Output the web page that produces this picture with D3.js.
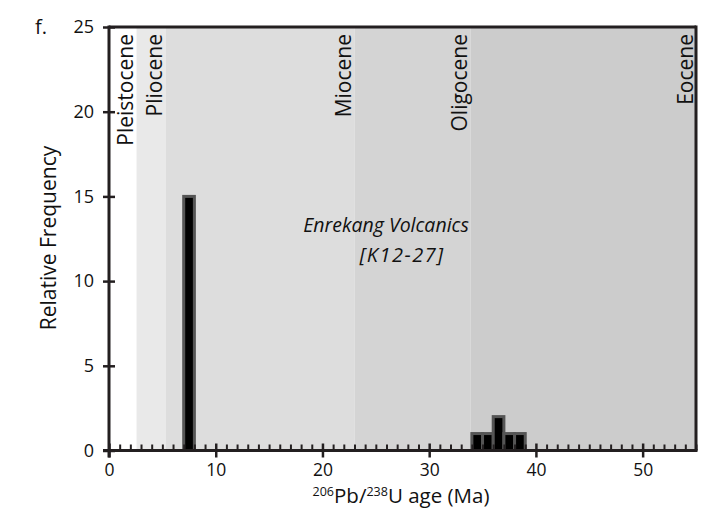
<!DOCTYPE html>
<html>
<head>
<meta charset="utf-8">
<script src="https://cdn.jsdelivr.net/npm/d3@7"></script>
<style>
  html, body { margin: 0; padding: 0; background: #fff; }
  svg { display: block; font-family: "Open Sans", "Noto Sans", sans-serif; }
</style>
</head>
<body>
<svg id="chart" width="707" height="513"></svg>
<script>
// ---- data ----
const binStarts = [7, 34, 35, 36, 37, 38];
const binCounts = [15, 1, 1, 2, 1, 1];
const binWidth = 1;

const epochNames  = ["Pleistocene", "Pliocene", "Miocene", "Oligocene", "Eocene"];
const epochStarts = [0, 2.58, 5.33, 23.03, 33.9];
const epochEnds   = [2.58, 5.33, 23.03, 33.9, 55];
const epochFills  = ["#ffffff", "#e9e9e9", "#dddddd", "#d4d4d4", "#cccccc"];

const xTicks = [0, 10, 20, 30, 40, 50];
const yTicks = [0, 5, 10, 15, 20, 25];
const xDomain = [0, 55];
const yDomain = [0, 25];

// ---- layout ----
const svg = d3.select("#chart");
const L = 109, R = 696, T = 27, B = 450.5;
const x = d3.scaleLinear().domain(xDomain).range([L, R]);
const y = d3.scaleLinear().domain(yDomain).range([B, T]);
const ink = "#231f20";
const txt = "#111";

// epoch bands
svg.append("g").selectAll("rect").data(epochNames).join("rect")
  .attr("x", (d, i) => x(epochStarts[i]))
  .attr("y", T)
  .attr("width", (d, i) => x(epochEnds[i]) - x(epochStarts[i]))
  .attr("height", B - T)
  .attr("fill", (d, i) => epochFills[i]);

// epoch labels
svg.append("g").selectAll("text").data(epochNames).join("text")
  .attr("transform", (d, i) => `translate(${x(epochEnds[i]) - 11},34) rotate(-90)`)
  .attr("text-anchor", "end")
  .attr("dy", "0.36em")
  .attr("font-size", 21)
  .attr("fill", txt)
  .text(d => d);

// annotation
svg.append("text")
  .attr("x", 386).attr("y", 232)
  .attr("text-anchor", "middle")
  .attr("font-size", 19.5).attr("font-style", "italic").attr("fill", txt)
  .text("Enrekang Volcanics");
svg.append("text")
  .attr("x", 402).attr("y", 262)
  .attr("text-anchor", "middle")
  .attr("font-size", 20).attr("font-style", "italic").attr("fill", txt)
  .attr("letter-spacing", 1.5)
  .text("[K12-27]");

// bars
svg.append("g").selectAll("rect").data(binStarts).join("rect")
  .attr("x", d => x(d))
  .attr("y", (d, i) => y(binCounts[i]))
  .attr("width", d => x(d + binWidth) - x(d))
  .attr("height", (d, i) => y(0) - y(binCounts[i]))
  .attr("fill", "#000")
  .attr("stroke", "#555")
  .attr("stroke-width", 3);

// frame top/right
svg.append("line").attr("x1", L).attr("x2", R).attr("y1", T).attr("y2", T)
  .attr("stroke", ink).attr("stroke-width", 3);
svg.append("line").attr("x1", R).attr("x2", R).attr("y1", T - 1.5).attr("y2", B)
  .attr("stroke", ink).attr("stroke-width", 3);

// x axis
const xMinor = d3.range(0, 56, 1).filter(v => !xTicks.includes(v));
const gx = svg.append("g").attr("transform", `translate(0,${B})`);
gx.call(d3.axisBottom(x).tickValues(xMinor).tickSize(-6).tickFormat(""))
  .call(g => g.select(".domain").remove())
  .call(g => g.selectAll(".tick line").attr("stroke", ink).attr("stroke-width", 2));
const gx2 = svg.append("g").attr("transform", `translate(0,${B})`);
gx2.call(d3.axisBottom(x).tickValues(xTicks).tickSize(7).tickPadding(6).tickFormat(d3.format("d")))
  .call(g => g.select(".domain").remove())
  .call(g => g.selectAll(".tick line").attr("y1", -7).attr("stroke", ink).attr("stroke-width", 2.5))
  .call(g => g.selectAll(".tick text").attr("font-size", 17.5).attr("fill", txt)
      .attr("font-family", "'Open Sans', sans-serif"));
svg.append("line").attr("x1", L - 6).attr("x2", R + 1.5).attr("y1", B).attr("y2", B)
  .attr("stroke", ink).attr("stroke-width", 3);

// y axis
const gy = svg.append("g").attr("transform", `translate(${L},0)`);
gy.call(d3.axisLeft(y).tickValues(yTicks).tickSize(6).tickPadding(9).tickFormat(d3.format("d")))
  .call(g => g.select(".domain").remove())
  .call(g => g.selectAll(".tick line").attr("x2", -6).attr("x1", 6).attr("stroke", ink).attr("stroke-width", 2.5))
  .call(g => g.selectAll(".tick text").attr("font-size", 18).attr("fill", txt)
      .attr("font-family", "'Open Sans', sans-serif"));
svg.append("line").attr("x1", L).attr("x2", L).attr("y1", T - 1.5).attr("y2", B + 7)
  .attr("stroke", ink).attr("stroke-width", 3);

// axis titles
const xt = svg.append("text")
  .attr("x", 401).attr("y", 503)
  .attr("text-anchor", "middle")
  .attr("font-size", 20.5).attr("fill", txt);
xt.append("tspan").attr("font-size", 12.5).attr("dy", -7).text("206");
xt.append("tspan").attr("dy", 7).text("Pb/");
xt.append("tspan").attr("font-size", 12.5).attr("dy", -7).text("238");
xt.append("tspan").attr("dy", 7).text("U age (Ma)");

svg.append("text")
  .attr("transform", "translate(56,238) rotate(-90)")
  .attr("text-anchor", "middle")
  .attr("font-size", 21).attr("fill", txt)
  .text("Relative Frequency");

// panel letter
svg.append("text").attr("x", 35).attr("y", 34)
  .attr("font-size", 20).attr("fill", txt).text("f.");
</script>
</body>
</html>
